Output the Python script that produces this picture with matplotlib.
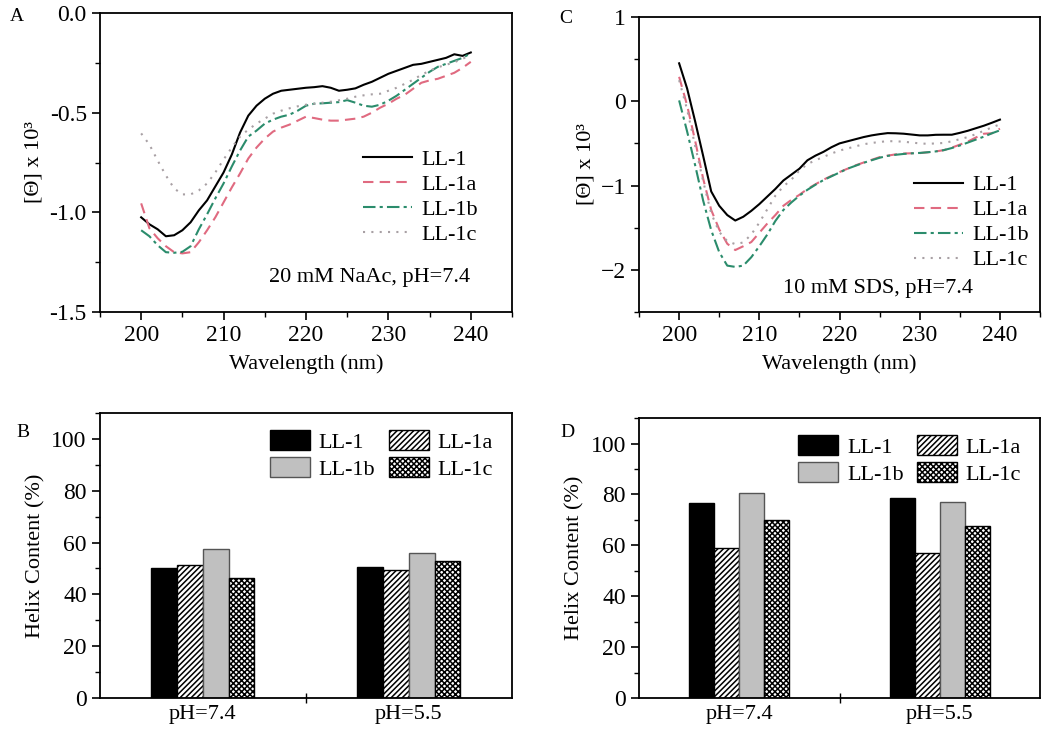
import numpy as np
import matplotlib
matplotlib.use('Agg')
from matplotlib import pyplot as plt
from matplotlib.ticker import MultipleLocator, FixedLocator, FormatStrFormatter

plt.rcParams['font.family'] = ['Liberation Serif', 'DejaVu Serif']
plt.rcParams['font.size'] = 16
plt.rcParams['hatch.linewidth'] = 1.1
plt.rcParams['axes.linewidth'] = 1.3

names = ['LL-1', 'LL-1a', 'LL-1b', 'LL-1c']
colors = ['black', '#e06a80', '#2b8c6c', '#a8a0a4']
styles = ['-', (0, (5, 3)), (0, (6, 2, 1.5, 2)), (0, (1, 3))]

wl = np.arange(200, 241) #wavelength (nm)

# panel A : 20 mM NaAc, pH=7.4
a_ll1 = [-1.025, -1.06, -1.085, -1.12, -1.115, -1.09, -1.05, -0.99, -0.94, -0.87,
         -0.80, -0.71, -0.60, -0.515, -0.465, -0.43, -0.405, -0.39, -0.385, -0.38,
         -0.375, -0.372, -0.367, -0.375, -0.39, -0.385, -0.378, -0.36, -0.345, -0.325,
         -0.305, -0.29, -0.275, -0.26, -0.255, -0.245, -0.235, -0.225, -0.207, -0.215, -0.198]
a_ll1a = [-0.955, -1.08, -1.13, -1.17, -1.20, -1.206, -1.20, -1.15, -1.09, -1.025,
          -0.95, -0.875, -0.805, -0.73, -0.675, -0.63, -0.595, -0.575, -0.56, -0.54,
          -0.52, -0.527, -0.535, -0.54, -0.54, -0.535, -0.53, -0.52, -0.50, -0.475,
          -0.455, -0.43, -0.41, -0.38, -0.35, -0.338, -0.33, -0.315, -0.30, -0.275, -0.245]
a_ll1b = [-1.09, -1.12, -1.165, -1.20, -1.203, -1.198, -1.17, -1.085, -1.01, -0.93,
          -0.855, -0.77, -0.69, -0.62, -0.59, -0.555, -0.535, -0.52, -0.51, -0.49,
          -0.465, -0.455, -0.453, -0.45, -0.447, -0.437, -0.45, -0.465, -0.47, -0.46,
          -0.44, -0.415, -0.385, -0.355, -0.325, -0.295, -0.27, -0.255, -0.24, -0.225, -0.202]
a_ll1c = [-0.604, -0.66, -0.74, -0.815, -0.88, -0.91, -0.91, -0.89, -0.855, -0.80,
          -0.735, -0.675, -0.62, -0.585, -0.555, -0.53, -0.505, -0.49, -0.478, -0.468,
          -0.46, -0.455, -0.45, -0.445, -0.438, -0.43, -0.42, -0.413, -0.408, -0.405,
          -0.39, -0.375, -0.355, -0.335, -0.31, -0.29, -0.272, -0.26, -0.247, -0.23, -0.21]

# panel C : 10 mM SDS, pH=7.4
c_ll1 = [0.45, 0.15, -0.24, -0.65, -1.07, -1.24, -1.35, -1.415, -1.37, -1.30,
         -1.22, -1.13, -1.04, -0.94, -0.87, -0.80, -0.70, -0.645, -0.60, -0.545,
         -0.50, -0.475, -0.45, -0.425, -0.405, -0.39, -0.378, -0.38, -0.385, -0.395,
         -0.405, -0.405, -0.398, -0.397, -0.397, -0.375, -0.35, -0.32, -0.29, -0.255, -0.218]
c_ll1a = [0.29, -0.05, -0.47, -0.92, -1.29, -1.52, -1.69, -1.765, -1.72, -1.67,
          -1.56, -1.45, -1.35, -1.24, -1.17, -1.11, -1.04, -0.985, -0.93, -0.885,
          -0.84, -0.80, -0.76, -0.727, -0.695, -0.663, -0.645, -0.63, -0.62, -0.617,
          -0.615, -0.605, -0.595, -0.58, -0.55, -0.515, -0.478, -0.43, -0.385, -0.38, -0.325]
c_ll1b = [0.01, -0.36, -0.76, -1.18, -1.53, -1.79, -1.95, -1.965, -1.95, -1.85,
          -1.72, -1.58, -1.42, -1.29, -1.20, -1.12, -1.05, -0.99, -0.935, -0.89,
          -0.845, -0.80, -0.765, -0.73, -0.70, -0.67, -0.648, -0.635, -0.625, -0.618,
          -0.613, -0.605, -0.595, -0.58, -0.555, -0.525, -0.49, -0.455, -0.42, -0.38, -0.345]
c_ll1c = [0.25, -0.10, -0.53, -0.95, -1.33, -1.55, -1.66, -1.695, -1.675, -1.58,
          -1.44, -1.28, -1.12, -1.01, -0.93, -0.82, -0.745, -0.70, -0.66, -0.62,
          -0.585, -0.56, -0.535, -0.51, -0.495, -0.483, -0.473, -0.475, -0.48, -0.49,
          -0.50, -0.505, -0.50, -0.495, -0.475, -0.45, -0.425, -0.39, -0.35, -0.31, -0.274]

# helix content (%), rows = peptide, cols = pH
ph_labels = ['pH=7.4', 'pH=5.5']
helix_naac = [[50, 50.5], [51.5, 49.5], [57.5, 56], [46.5, 53]]
helix_sds = [[76.5, 78.5], [59, 57], [80.5, 77], [70, 67.5]]

bar_face = ['black', 'white', '#c0c0c0', 'white']
bar_hatch = [None, '//////', None, 'xxxxxx']
bar_edge = ['black', 'black', '#555555', 'black']


def style_axes(ax):
    ax.tick_params(which='both', direction='out', top=False, right=False, labelsize=17)
    ax.tick_params(which='major', length=6, width=1.2)
    ax.tick_params(which='minor', length=3.5, width=1.0)


def line_panel(ax, curves, ylim, ymaj, ymin, note, note_xy, leg_anchor):
    for y, n, c, s in zip(curves, names, colors, styles):
        ax.plot(wl, y, color=c, linestyle=s, lw=1.5, label=n)
    ax.set_xlim(195, 245)
    ax.set_ylim(*ylim)
    ax.xaxis.set_major_locator(FixedLocator([200, 210, 220, 230, 240]))
    ax.xaxis.set_minor_locator(MultipleLocator(5))
    ax.yaxis.set_major_locator(MultipleLocator(ymaj))
    ax.yaxis.set_minor_locator(MultipleLocator(ymin))
    ax.set_xlabel('Wavelength (nm)', fontsize=16, labelpad=6)
    ax.set_ylabel('[Θ] x 10³', fontsize=16)
    ax.text(note_xy[0], note_xy[1], note, transform=ax.transAxes, ha='center', va='center', fontsize=16)
    ax.legend(loc='upper right', bbox_to_anchor=leg_anchor, frameon=False, fontsize=16,
              handlelength=2.2, handletextpad=0.45, labelspacing=0.2, borderaxespad=0)
    style_axes(ax)


def bar_panel(ax, data):
    x = np.array([1, 2])
    w = 0.125
    handles = []
    for i, vals in enumerate(data):
        b = ax.bar(x + (i - 1.5) * w, vals, w, color=bar_face[i], edgecolor=bar_edge[i],
                   hatch=bar_hatch[i], linewidth=1.0, label=names[i])
        handles.append(b)
    ax.set_xlim(0.5, 2.5)
    ax.set_ylim(0, 110)
    ax.set_xticks([1, 2])
    ax.set_xticklabels(ph_labels)
    ax.xaxis.set_minor_locator(FixedLocator([1.5]))
    ax.yaxis.set_major_locator(MultipleLocator(20))
    ax.yaxis.set_minor_locator(MultipleLocator(10))
    ax.set_ylabel('Helix Content (%)', fontsize=16)
    style_axes(ax)
    ax.tick_params(axis='x', which='major', length=0, pad=5, labelsize=16)
    ax.tick_params(axis='x', which='minor', direction='inout', length=7)
    order = [0, 2, 1, 3]
    ax.legend([handles[k] for k in order], [names[k] for k in order], ncol=2,
              loc='upper right', bbox_to_anchor=(0.975, 0.97), frameon=False, fontsize=16,
              handlelength=1.8, handleheight=1.0, handletextpad=0.4, columnspacing=0.6,
              labelspacing=0.2, borderaxespad=0)


fig = plt.figure(figsize=(10.5, 7.31), dpi=100)
axA = fig.add_axes([0.0952, 0.5732, 0.3924, 0.409])
axC = fig.add_axes([0.6086, 0.5732, 0.3819, 0.4036])
axB = fig.add_axes([0.0952, 0.0451, 0.3924, 0.3899])
axD = fig.add_axes([0.6086, 0.0451, 0.3819, 0.383])

line_panel(axA, [a_ll1, a_ll1a, a_ll1b, a_ll1c], (-1.5, 0.0), 0.5, 0.25,
           '20 mM NaAc, pH=7.4', (0.655, 0.117), (0.94, 0.575))
axA.yaxis.set_major_formatter(FormatStrFormatter('%.1f'))
line_panel(axC, [c_ll1, c_ll1a, c_ll1b, c_ll1c], (-2.5, 1.0), 1, 0.5,
           '10 mM SDS, pH=7.4', (0.596, 0.081), (0.995, 0.495))
bar_panel(axB, helix_naac)
bar_panel(axD, helix_sds)

fig.text(0.0095, 0.978, 'A', fontsize=14, va='center', ha='left')
fig.text(0.533, 0.975, 'C', fontsize=14, va='center', ha='left')
fig.text(0.0155, 0.409, 'B', fontsize=14, va='center', ha='left')
fig.text(0.5335, 0.409, 'D', fontsize=14, va='center', ha='left')

fig.savefig('out.png', dpi=100)
